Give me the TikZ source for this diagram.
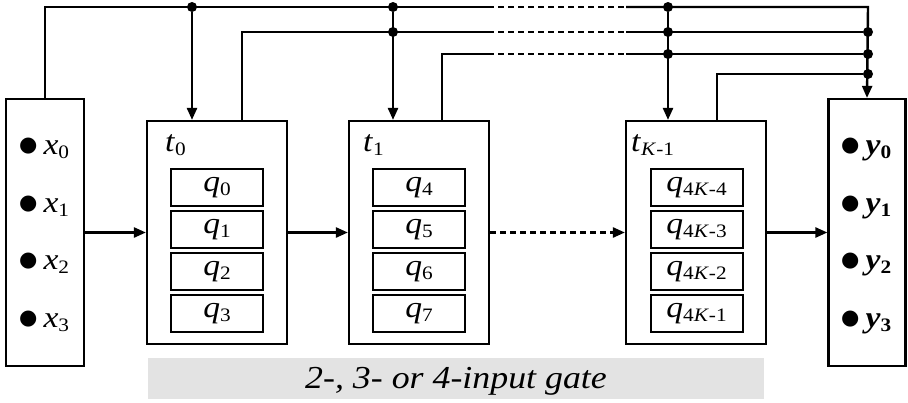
\documentclass[tikz,border=0pt]{standalone}
\usepackage{fontspec}
\setmainfont{Liberation Serif}[FakeStretch=1.12]
\newfontfamily\symfont{DejaVu Sans}
\usetikzlibrary{arrows.meta}

\definecolor{capgray}{RGB}{227,227,227}

% subscript set by hand so that the serif text font is used throughout
\newcommand\sbs[1]{\raisebox{-4pt}{\fontsize{19}{19}\selectfont #1}}
\newcommand\vx[2]{\textit{#1}\sbs{#2}}
\newcommand\vb[2]{\textbf{\textit{#1}\sbs{#2}}}
\newcommand\bul{{\symfont\fontsize{21}{21}\selectfont\raisebox{3pt}{●}}\hspace{6pt}}

\begin{document}
\begin{tikzpicture}[x=1pt,y=-1pt,
  every node/.style={font=\fontsize{30}{34}\selectfont},
  box/.style={draw, line width=2.2pt, inner sep=0pt},
  regbox/.style={box, minimum width=140pt, minimum height=223pt},
  iobox/.style={box, minimum height=267pt},
  qbox/.style={draw, line width=2pt, minimum width=92pt, minimum height=37pt, inner sep=0pt},
  lab/.style={anchor=base west, inner sep=0pt},
  wire/.style={line width=2.4pt},
  arr/.style={wire, -{Triangle[length=12pt,width=10pt]}},
  gapline/.style={wire, dash pattern=on 6pt off 4pt},
  jdot/.style={circle, fill, inner sep=0pt, minimum size=10pt}]

\useasboundingbox (0,0) rectangle (908,402);

% input and output registers
\node[iobox, minimum width=78pt] (in)  at (45,232.5) {};
\node[iobox, minimum width=77pt] (out) at (867,232.5) {};

% gate blocks
\node[regbox] (t0) at (217,232.5) {};
\node[regbox] (t1) at (419,232.5) {};
\node[regbox] (tK) at (696,232.5) {};

% block names
\node[lab] (t0l) at (165,151) {\vx{t}{0}};
\node[lab] (t1l) at (363,151) {\vx{t}{1}};
\node[lab] (tKl) at (631,151) {\vx{t}{\textit{K}-1}};

% gate registers
\foreach \i/\y in {0/187.5,1/229.5,2/271.5,3/313.5}{
  \node[qbox] (qa\i) at (217,\y) {};
  \node[qbox] (qb\i) at (419,\y) {};
  \node[qbox] (qc\i) at (696.5,\y) {};
}
\node at (qa0) {\vx{q}{0}};
\node at (qa1) {\vx{q}{1}};
\node at (qa2) {\vx{q}{2}};
\node at (qa3) {\vx{q}{3}};
\node at (qb0) {\vx{q}{4}};
\node at (qb1) {\vx{q}{5}};
\node at (qb2) {\vx{q}{6}};
\node at (qb3) {\vx{q}{7}};
\node at (qc0) {\vx{q}{4\textit{K}-4}};
\node at (qc1) {\vx{q}{4\textit{K}-3}};
\node at (qc2) {\vx{q}{4\textit{K}-2}};
\node at (qc3) {\vx{q}{4\textit{K}-1}};

% input and output bits
\node[lab] (x0) at (19,154) {\bul\vx{x}{0}};
\node[lab] (x1) at (19,212) {\bul\vx{x}{1}};
\node[lab] (x2) at (19,269) {\bul\vx{x}{2}};
\node[lab] (x3) at (19,327) {\bul\vx{x}{3}};
\node[lab] (y0) at (841,154) {\bul\vb{y}{0}};
\node[lab] (y1) at (841,212) {\bul\vb{y}{1}};
\node[lab] (y2) at (841,269) {\bul\vb{y}{2}};
\node[lab] (y3) at (841,327) {\bul\vb{y}{3}};

% caption bar
\node[fill=capgray, minimum width=616pt, minimum height=41pt, inner sep=0pt,
      text height=20pt, text depth=1pt, font=\fontsize{32}{36}\selectfont\itshape]
  (cap) at (456,378.5) {2-, 3- or 4-input gate};

% bus points
\coordinate (c0) at (45,7);
\coordinate (rc) at (868,7);
\coordinate (g0a) at (488,7);  \coordinate (g0b) at (626,7);
\coordinate (g1a) at (488,32); \coordinate (g1b) at (626,32);
\coordinate (g2a) at (488,54); \coordinate (g2b) at (626,54);

% junctions
\node[jdot] (j00) at (192,7) {};
\node[jdot] (j01) at (393,7) {};
\node[jdot] (j02) at (668,7) {};
\node[jdot] (j11) at (393,32) {};
\node[jdot] (j12) at (668,32) {};
\node[jdot] (j22) at (668,54) {};
\node[jdot] (k1) at (868,32) {};
\node[jdot] (k2) at (868,54) {};
\node[jdot] (k3) at (868,74) {};

% feedback bus
\draw[wire] (in.north) -- (c0) -- (g0a);
\draw[gapline] (g0a) -- (g0b);
\draw[arr] (g0b) -- (rc) -- (out.north);

\draw[wire] ([xshift=25pt]t0.north) |- (g1a);
\draw[gapline] (g1a) -- (g1b);
\draw[wire] (g1b) -- (k1);

\draw[wire] ([xshift=23pt]t1.north) |- (g2a);
\draw[gapline] (g2a) -- (g2b);
\draw[wire] (g2b) -- (k2);

\draw[wire] ([xshift=21pt]tK.north) |- (k3);

% taps into the blocks
\draw[arr] (j00) -- (j00 |- t0.north);
\draw[arr] (j01) -- (j01 |- t1.north);
\draw[arr] (j02) -- (j02 |- tK.north);

% forward chain
\draw[arr] (in.east) -- (t0.west);
\draw[arr] (t0.east) -- (t1.west);
\draw[arr, dash pattern=on 6pt off 4pt] (t1.east) -- (tK.west);
\draw[arr] (tK.east) -- (out.west);

\end{tikzpicture}
\end{document}
